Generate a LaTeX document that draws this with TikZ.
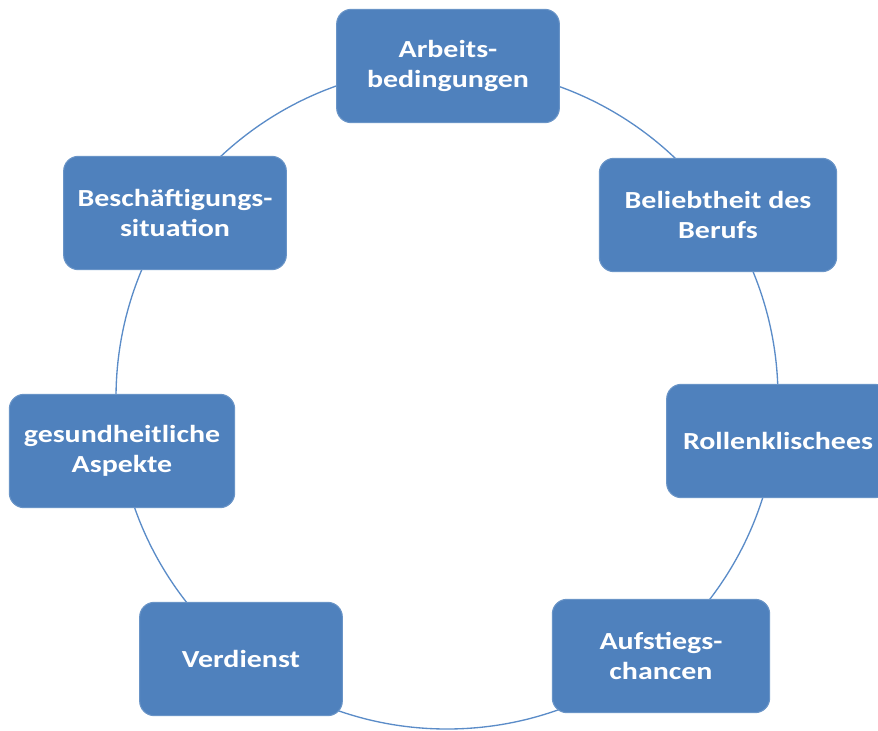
\documentclass[tikz,border=0pt]{standalone}
\usepackage{fontspec}
\usepackage{tikz}
\usetikzlibrary{positioning}
\newfontfamily\boxfont{Carlito}[FakeStretch=1.22]
\definecolor{boxblue}{HTML}{4F81BD}
\definecolor{ringblue}{HTML}{5B8CC8}

\begin{document}
\begin{tikzpicture}[
  x=0.75pt, y=-0.75pt,
  ring/.style={draw=ringblue, line width=1pt},
  topicbox/.style={rectangle, rounded corners=11pt, draw=boxblue!85!white, line width=0.8pt,
    fill=boxblue, text=white, align=center, minimum width=167pt, minimum height=85pt,
    font=\boxfont\bfseries\fontsize{18.4}{22.5}\selectfont}
]
\useasboundingbox (0,0) rectangle (878,731);

\coordinate (mid) at (447,398);
\draw[ring] (mid) circle [radius=331];

\node[topicbox] (arb) at (448,66) {Arbeits-\\bedingungen};
\node[topicbox, minimum width=178pt] (bel) at (718,215) {Beliebtheit des\\Berufs};
\node[topicbox] (rol) at (778,441) {Rollenklischees};
\node[topicbox, minimum width=163pt] (auf) at (661,656) {Aufstiegs-\\chancen};
\node[topicbox, minimum width=152pt] (ver) at (241,659) {Verdienst};
\node[topicbox, minimum width=169pt] (ges) at (122,451) {gesundheitliche\\Aspekte};
\node[topicbox] (bes) at (175,213) {Besch\"aftigungs-\\situation};
\end{tikzpicture}
\end{document}
